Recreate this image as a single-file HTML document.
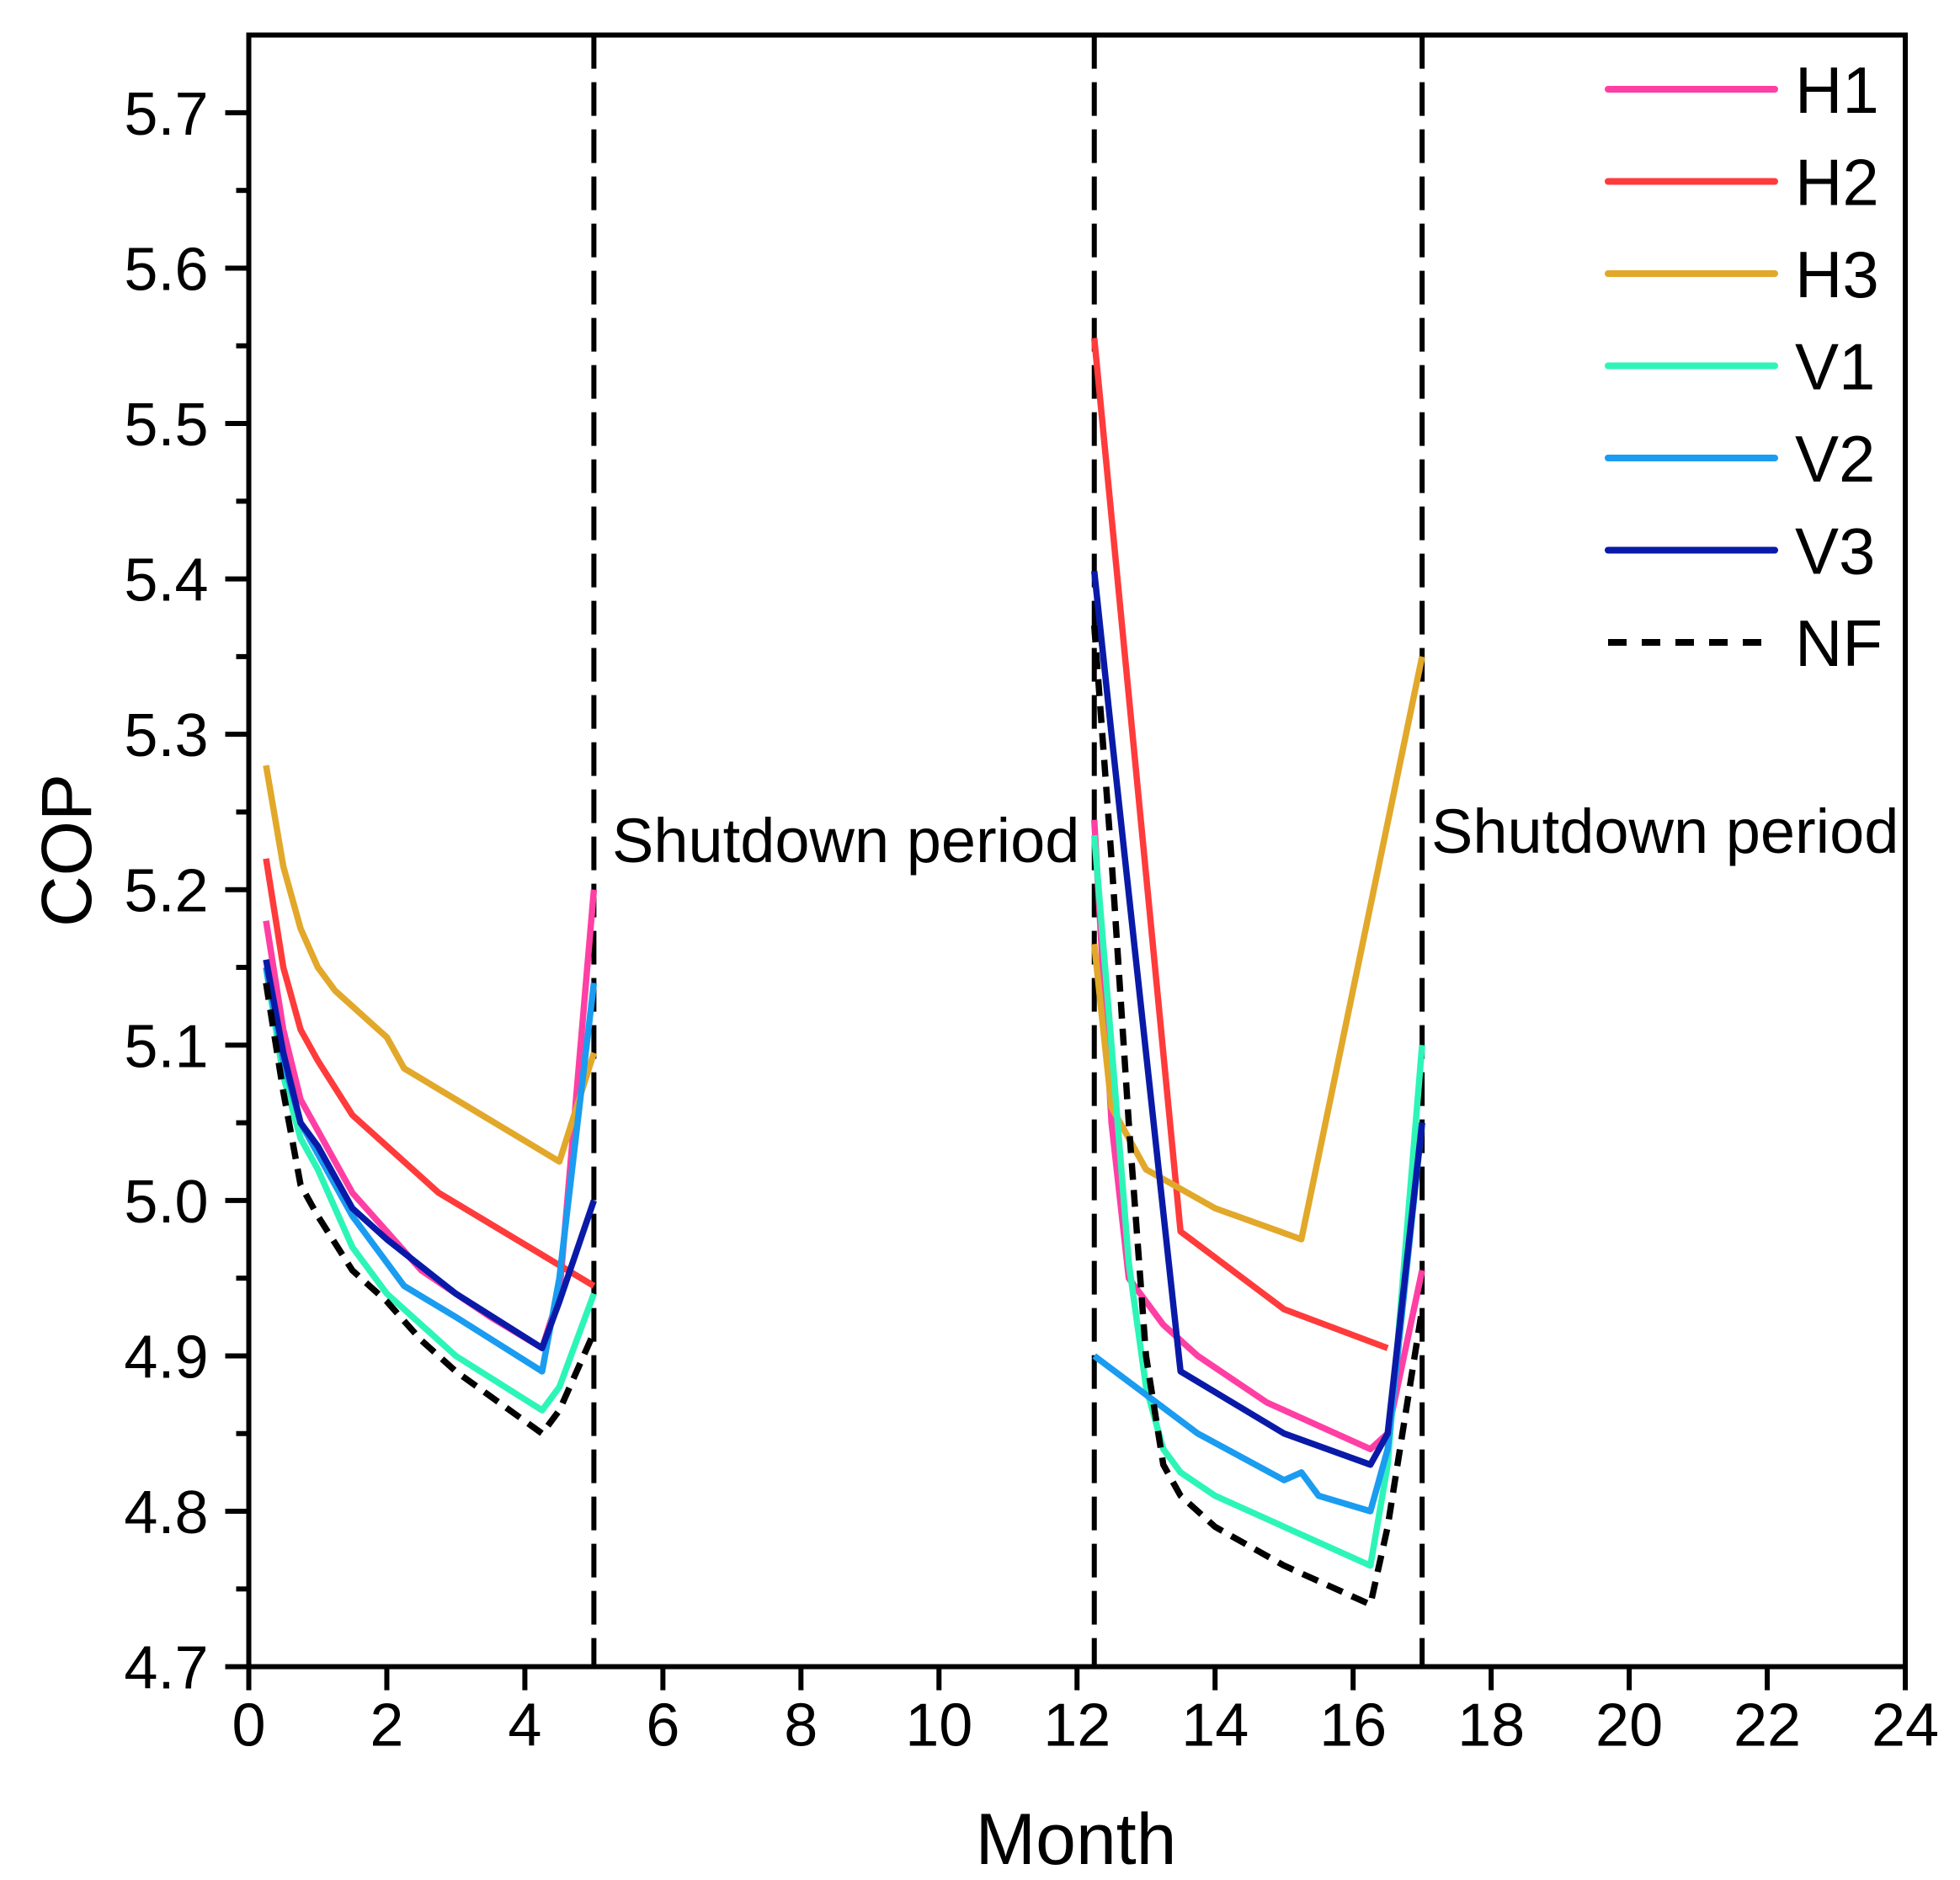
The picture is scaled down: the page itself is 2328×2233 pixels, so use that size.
<!DOCTYPE html>
<html><head><meta charset="utf-8">
<style>
html,body{margin:0;padding:0;background:#fff;}
svg{display:block;font-family:"Liberation Sans",Arial,sans-serif;}
</style></head>
<body>
<svg id="chart" width="2328" height="2233" viewBox="0 0 2328 2233" xmlns="http://www.w3.org/2000/svg">
<g id="marks"></g>
<g id="axes"></g>
</svg>
<script>
const seriesNames = ["H1","H2","H3","V1","V2","V3","NF"];
const seriesColors = ["#ff3fa4","#ff3b3b","#e2a82a","#2df5b8","#1a9cf0","#0a1aa8","#000000"];
const xTicks = [0,2,4,6,8,10,12,14,16,18,20,22,24];
const yTicks = [4.7,4.8,4.9,5.0,5.1,5.2,5.3,5.4,5.5,5.6,5.7];
const yTickLabels = ["4.7","4.8","4.9","5.0","5.1","5.2","5.3","5.4","5.5","5.6","5.7"];
const shutdownLines = [5,12.25,17];

const h1Left = [[0.25,5.18],[0.5,5.11],[0.75,5.065],[1,5.045],[1.5,5.005],[2,4.98],[2.5,4.955],[3,4.94],[3.5,4.925],[4.25,4.905],[4.5,4.94],[5,5.20]];
const h1Right = [[12.25,5.245],[12.5,5.05],[12.75,4.95],[13.25,4.92],[13.75,4.9],[14.75,4.87],[16.25,4.84],[16.5,4.85],[17,4.955]];
const h2Left = [[0.25,5.22],[0.5,5.15],[0.75,5.11],[1,5.09],[1.5,5.055],[2,5.035],[2.75,5.005],[3.5,4.985],[4.25,4.965],[5,4.945]];
const h2Right = [[12.25,5.555],[13.5,4.98],[15,4.93],[16.5,4.905]];
const h3Left = [[0.25,5.28],[0.5,5.215],[0.75,5.175],[1,5.15],[1.25,5.135],[2,5.105],[2.25,5.085],[3,5.065],[4.5,5.025],[5,5.095]];
const h3Right = [[12.25,5.165],[12.5,5.06],[13,5.02],[14,4.995],[15.25,4.975],[17,5.35]];
const v1Left = [[0.25,5.15],[0.5,5.08],[0.75,5.04],[1,5.02],[1.5,4.97],[2,4.94],[3,4.90],[4.25,4.865],[4.5,4.88],[5,4.94]];
const v1Right = [[12.25,5.235],[12.5,5.1],[12.75,4.96],[13,4.88],[13.25,4.84],[13.5,4.825],[14,4.81],[15,4.79],[16.25,4.765],[16.5,4.83],[17,5.10]];
const v2Left = [[0.25,5.15],[0.5,5.09],[0.75,5.05],[1,5.03],[1.5,4.99],[2.25,4.945],[3,4.925],[4.25,4.89],[4.5,4.95],[5,5.14]];
const v2Right = [[12.25,4.9],[13.75,4.85],[15,4.82],[15.25,4.825],[15.5,4.81],[16.25,4.8],[16.5,4.84],[17,5.05]];
const v3Left = [[0.25,5.155],[0.5,5.095],[0.75,5.05],[1,5.035],[1.5,4.995],[2,4.975],[3,4.94],[4.25,4.905],[4.5,4.935],[5,5.0]];
const v3Right = [[12.25,5.405],[12.5,5.3],[13.5,4.89],[15,4.85],[16.25,4.83],[16.5,4.85],[17,5.05]];
const nfLeft = [[0.25,5.14],[0.5,5.07],[0.75,5.01],[1,4.99],[1.5,4.955],[2,4.935],[2.5,4.91],[3,4.89],[4.25,4.85],[4.5,4.865],[5,4.915]];
const nfRight = [[12.25,5.37],[12.5,5.22],[12.75,5.05],[13,4.9],[13.25,4.83],[13.5,4.81],[14,4.79],[15,4.765],[16.25,4.74],[16.5,4.79],[17,4.93]];

const seriesData = [[h1Left,h1Right],[h2Left,h2Right],[h3Left,h3Right],[v1Left,v1Right],[v2Left,v2Right],[v3Left,v3Right],[nfLeft,nfRight]];

const L=295.5,R=2263,T=41.6,B=1979.6;
const xMin=0,xMax=24,yMin=4.7,yMax=5.75;
function xs(v){return L+(v-xMin)/(xMax-xMin)*(R-L);}
function ys(v){return B-(v-yMin)/(yMax-yMin)*(B-T);}
const NS="http://www.w3.org/2000/svg";
const marks=document.getElementById('marks');
const axes=document.getElementById('axes');
function mk(tag,attrs,parent){const e=document.createElementNS(NS,tag);for(const k in attrs)e.setAttribute(k,attrs[k]);parent.appendChild(e);return e;}

shutdownLines.forEach((m,i)=>{
  const ln=mk('line',{x1:xs(m),x2:xs(m),y1:T,y2:B,stroke:'#000','stroke-width':6,'stroke-dasharray':'40 16'},marks);
  
  
});

seriesData.forEach((segs,si)=>{
  segs.forEach((pts,j)=>{
    const d=pts.map((p,k)=>(k?'L':'M')+xs(p[0]).toFixed(1)+' '+ys(p[1]).toFixed(1)).join(' ');
    const attrs={d:d,fill:'none',stroke:seriesColors[si],'stroke-width':7.5,'stroke-linejoin':'round'};
    if(seriesNames[si]==='NF') attrs['stroke-dasharray']='20 12';
    const p=mk('path',attrs,marks);
    
    
  });
});

const fr=mk('rect',{x:L,y:T,width:R-L,height:B-T,fill:'none',stroke:'#000','stroke-width':6},axes);



xTicks.forEach(t=>{
  const x=xs(t);
  const tk=mk('line',{x1:x,x2:x,y1:B,y2:B+28,stroke:'#000','stroke-width':6},axes);
  
  
  const tx=mk('text',{x:x,y:B+94,'text-anchor':'middle','font-size':72,fill:'#000'},axes);
  tx.textContent=t;
  
  
});
yTicks.forEach((t,i)=>{
  const y=ys(t);
  const tk=mk('line',{x1:L-28,x2:L,y1:y,y2:y,stroke:'#000','stroke-width':6},axes);
  
  
  const m=ys(t+0.05);
  if(m>T+2){
    const mn=mk('line',{x1:L-15,x2:L,y1:m,y2:m,stroke:'#000','stroke-width':6},axes);
    
    
  }
  const tx=mk('text',{x:L-48,y:y+26,'text-anchor':'end','font-size':72,fill:'#000'},axes);
  tx.textContent=yTickLabels[i];
  
  
});

const xt=mk('text',{x:1278,y:2214,'text-anchor':'middle','font-size':86,fill:'#000'},axes);
xt.textContent='Month';


const yt=mk('text',{x:0,y:0,'text-anchor':'middle','font-size':84,fill:'#000',transform:'translate(108 1010) rotate(-90)'},axes);
yt.textContent='COP';



const a1=mk('text',{x:727,y:1024,'font-size':74,fill:'#000'},axes);
a1.textContent='Shutdown period';


const a2=mk('text',{x:1700,y:1013,'font-size':74,fill:'#000'},axes);
a2.textContent='Shutdown period';



const lg=mk('g',{},axes);


seriesNames.forEach((n,i)=>{
  const y=106+i*109.5;
  const attrs={x1:1910,x2:2108,y1:y,y2:y,stroke:seriesColors[i],'stroke-width':8,'stroke-linecap':'round'};
  if(n==='NF'){attrs['stroke-dasharray']='22 18';attrs['stroke-linecap']='butt';}
  const ln=mk('line',attrs,lg);
  
  
  const tx=mk('text',{x:2132,y:y+28,'font-size':78,fill:'#000'},lg);
  tx.textContent=n;
  
  
});
</script>
</body></html>
